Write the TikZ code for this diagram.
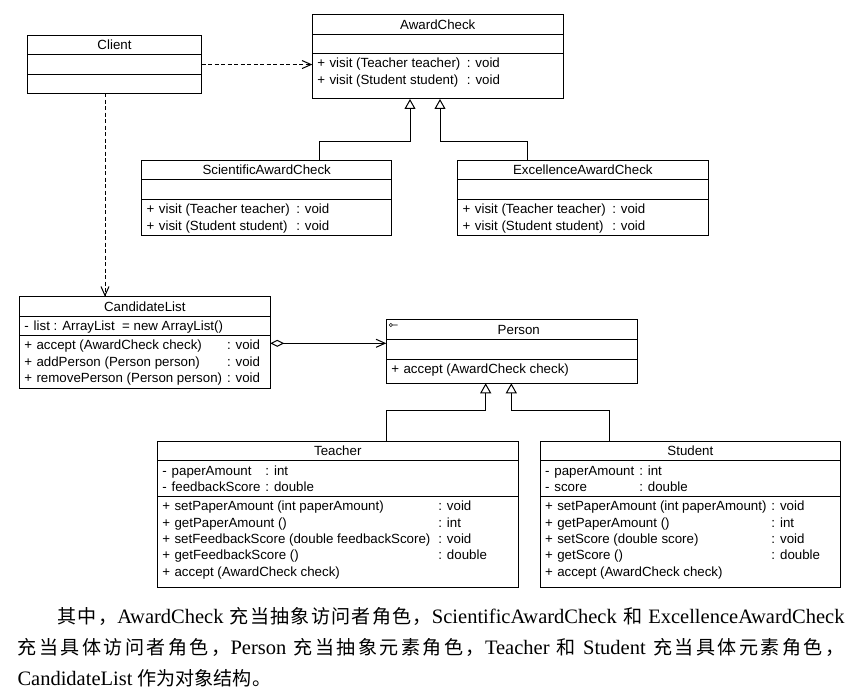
\documentclass[tikz,border=0pt]{standalone}
\usepackage{fontspec}
\setmainfont{Liberation Serif}
\newfontfamily\umlfont{Liberation Sans}
\newfontfamily\cjk[Scale=0.93]{Noto Sans CJK SC}
\usetikzlibrary{arrows.meta, positioning}

\newcommand{\umlsize}{\umlfont\fontsize{13.3pt}{16.3pt}\selectfont}
\newcommand{\pub}{+\hspace{4.5pt}}
\newcommand{\priv}{-\hspace{5pt}}
\newcommand{\cpart}[3]{\parbox[c][#2][t]{#1}{\vspace{2.8pt}%
	\begin{tabular}{@{\hspace{5pt}}l@{\hspace{5pt}}l@{}}#3\end{tabular}}}
% chinese text, with stretchable glue between the characters
\newcommand{\zhend}{}
\newcommand{\zhspread}[2]{#1\ifx\zhend#2\else\hskip 0pt plus 3pt\relax\expandafter\zhspread\expandafter#2\fi}
\newcommand{\zh}[1]{{\cjk\zhspread#1\zhend}}

\begin{document}
\begin{tikzpicture}[x=1pt, y=-1pt, line width=1pt,
	classhead/.style={draw, inner sep=0pt, outer sep=0pt, minimum width=#1, minimum height=19.6pt, font=\umlsize},
	emptypart/.style 2 args={draw, inner sep=0pt, outer sep=0pt, minimum width=#1, minimum height=#2},
	classpart/.style={draw, inner sep=0pt, outer sep=0pt, font=\umlsize},
	depend/.style={dash pattern=on 4pt off 2.5pt, -{Straight Barb[length=9pt,width=8pt]}},
	aggr/.style={{Diamond[open,length=14pt,width=7pt]}-{Straight Barb[length=9pt,width=8pt]}},
	inherit/.style={-{Triangle[open,length=10pt,width=11pt]}}]
	\useasboundingbox (0,0) rectangle (857,698);

	% classes
	\node [classhead=174.4pt, anchor=north west] (client) at (27.3,35.3) {Client};
	\node [emptypart={174.4pt}{19.3pt}, below=0pt of client] (clientattr) {};
	\node [emptypart={174.4pt}{19pt}, below=0pt of clientattr] (clientops) {};

	\node [classhead=251pt, anchor=north west] (award) at (312.3,14.7) {AwardCheck};
	\node [emptypart={251pt}{19.3pt}, below=0pt of award] (awardattr) {};
	\node [classpart, below=0pt of awardattr] (awardops) {\cpart{251pt}{45.4pt}{%
		\pub visit (Teacher teacher) & : void\\
		\pub visit (Student student)\ \  & : void}};

	\node [classhead=250pt, anchor=north west] (sci) at (141.7,160.3) {ScientificAwardCheck};
	\node [emptypart={250pt}{19.7pt}, below=0pt of sci] (sciattr) {};
	\node [classpart, below=0pt of sciattr] (sciops) {\cpart{250pt}{36pt}{%
		\pub visit (Teacher teacher) & : void\\
		\pub visit (Student student)\ \  & : void}};

	\node [classhead=250.3pt, anchor=north west] (exc) at (457.7,160.3) {ExcellenceAwardCheck};
	\node [emptypart={250.3pt}{19.7pt}, below=0pt of exc] (excattr) {};
	\node [classpart, below=0pt of excattr] (excops) {\cpart{250.3pt}{36pt}{%
		\pub visit (Teacher teacher) & : void\\
		\pub visit (Student student)\ \  & : void}};

	\node [classhead=251pt, anchor=north west] (cand) at (19.3,296.7) {CandidateList};
	\node [classpart, below=0pt of cand] (candattr) {\cpart{251pt}{19.3pt}{%
		\priv list : ArrayList\ \ = new ArrayList() & }};
	\node [classpart, below=0pt of candattr] (candops) {\cpart{251pt}{52.4pt}{%
		\pub accept (AwardCheck check) & : void\\
		\pub addPerson (Person person) & : void\\
		\pub removePerson (Person person) & : void}};

	\node [classhead=251pt, anchor=north west] (person) at (386.3,319.7) {\hspace{14pt}Person};
	\node [emptypart={251pt}{20pt}, below=0pt of person] (personattr) {};
	\node [classpart, below=0pt of personattr] (personops) {\cpart{251pt}{24pt}{%
		\pub accept (AwardCheck check) & }};
	\coordinate (personicon) at ([shift={(4.6pt,-5.3pt)}]person.north west);
	\draw [line width=0.6pt] (personicon) circle[radius=1.6pt] ([xshift=1.6pt]personicon) -- ++(5pt,0);

	\node [classhead=361pt, anchor=north west] (teacher) at (157.3,441.3) {Teacher};
	\node [classpart, below=0pt of teacher] (teacherattr) {\cpart{361pt}{35.7pt}{%
		\priv paperAmount & : int\\
		\priv feedbackScore & : double}};
	\node [classpart, below=0pt of teacherattr] (teacherops) {\cpart{361pt}{91pt}{%
		\pub setPaperAmount (int paperAmount) & : void\\
		\pub getPaperAmount () & : int\\
		\pub setFeedbackScore (double feedbackScore)\hspace{3pt} & : void\\
		\pub getFeedbackScore () & : double\\
		\pub accept (AwardCheck check) & }};

	\node [classhead=300.7pt, anchor=north west] (student) at (540,441.3) {Student};
	\node [classpart, below=0pt of student] (studentattr) {\cpart{300.7pt}{35.7pt}{%
		\priv paperAmount & : int\\
		\priv score & : double}};
	\node [classpart, below=0pt of studentattr] (studentops) {\cpart{300.7pt}{91pt}{%
		\pub setPaperAmount (int paperAmount) & : void\\
		\pub getPaperAmount () & : int\\
		\pub setScore (double score) & : void\\
		\pub getScore () & : double\\
		\pub accept (AwardCheck check) & }};

	% connectors
	\coordinate (awardbus) at (0,142);
	\coordinate (personbus) at (0,410);
	\coordinate (sciup) at ([xshift=52.3pt]sci.north);
	\coordinate (excup) at ([xshift=-55.6pt]exc.north);
	\coordinate (awardin) at ([xshift=-27.8pt]awardops.south);
	\coordinate (awardin2) at ([xshift=2.2pt]awardops.south);
	\coordinate (teacherup) at ([xshift=48.9pt]teacher.north);
	\coordinate (studentup) at ([xshift=-81pt]student.north);
	\coordinate (personin) at ([xshift=-26.1pt]personops.south);
	\coordinate (personin2) at ([xshift=-0.5pt]personops.south);
	\coordinate (clientdown) at ([xshift=-9.5pt]clientops.south);
	\coordinate (candlink) at ([yshift=-7.7pt]candops.north east);

	\draw [depend] (clientattr.east) -- (clientattr.east -| award.west);
	\draw [depend] (clientdown) -- (clientdown |- cand.north);
	\draw [aggr] (candlink) -- (candlink -| person.west);
	\draw [inherit] (sciup) -- (sciup |- awardbus) -| (awardin);
	\draw [inherit] (excup) -- (excup |- awardbus) -| (awardin2);
	\draw [inherit] (teacherup) -- (teacherup |- personbus) -| (personin);
	\draw [inherit] (studentup) -- (studentup |- personbus) -| (personin2);

	% caption
	\node [anchor=base west, inner sep=0pt, font=\fontsize{20.5pt}{24pt}\selectfont] (cap1) at (57,623)
		{\makebox[787pt][s]{\zh{其中，}AwardCheck \zh{充当抽象访问者角色，}ScientificAwardCheck \zh{和} ExcellenceAwardCheck}};
	\node [anchor=base west, inner sep=0pt, font=\fontsize{20.5pt}{24pt}\selectfont] (cap2) at (17,654)
		{\makebox[827pt][s]{\zh{充当具体访问者角色，}Person \zh{充当抽象元素角色，}Teacher \zh{和} Student \zh{充当具体元素角色，}}};
	\node [anchor=base west, inner sep=0pt, font=\fontsize{20.5pt}{24pt}\selectfont] (cap3) at (17,685)
		{CandidateList \zh{作为对象结构。}};
\end{tikzpicture}
\end{document}
